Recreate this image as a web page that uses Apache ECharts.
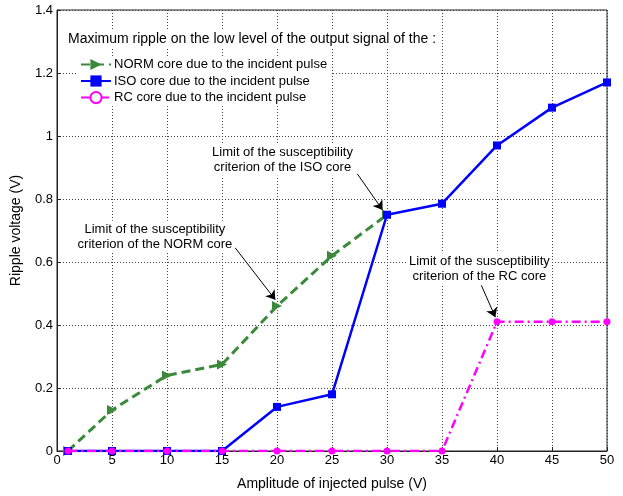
<!DOCTYPE html>
<html>
<head>
<meta charset="utf-8">
<script src="https://cdn.jsdelivr.net/npm/echarts@6/dist/echarts.min.js"></script>
<style>
  html, body { margin: 0; padding: 0; background: #fff; }
  #chart { width: 623px; height: 496px; }
</style>
</head>
<body>
<div id="chart"></div>
<script>
// Injected pulse amplitude (V) and measured ripple (V) for each core
const amplitudes = [1, 5, 10, 15, 20, 25, 30, 35, 40, 45, 50];
const normRipple = [0, 0.13, 0.24, 0.275, 0.46, 0.62, 0.75];
const isoRipple  = [0, 0, 0, 0, 0.14, 0.18, 0.75, 0.785, 0.97, 1.09, 1.17];
const rcRipple   = [0, 0, 0, 0, 0, 0, 0, 0, 0.41, 0.41, 0.41];

const seriesNames = [
  'NORM core due to the incident pulse',
  'ISO core due to the incident pulse',
  'RC core due to the incident pulse'
];
const headerText = 'Maximum ripple on the low level of the output signal of the :';
const xTitle = 'Amplitude of injected pulse (V)';
const yTitle = 'Ripple voltage (V)';

const FONT = '"Liberation Sans", Arial, Helvetica, sans-serif';
const GREEN = '#3b8a3b';
const BLUE = '#0000ff';
const MAGENTA = '#ff00ff';

// callouts: text anchor and arrow start/end, in data coordinates
const callouts = [
  { lines: ['Limit of the susceptibility', 'criterion of the NORM core'], at: [8.9, 0.68], from: [16.2, 0.645], to: [19.85, 0.48] },
  { lines: ['Limit of the susceptibility', 'criterion of the ISO core'],  at: [20.5, 0.925], from: [27.3, 0.88], to: [29.6, 0.765] },
  { lines: ['Limit of the susceptibility', 'criterion of the RC core'],   at: [38.4, 0.577], from: [38.45, 0.536], to: [39.85, 0.425] }
];

const pairs = (ys) => ys.map((y, i) => [amplitudes[i], y]);

const chart = echarts.init(document.getElementById('chart'), null, { renderer: 'canvas' });

const gridLine = { show: true, lineStyle: { color: '#444', width: 1, type: [1, 2] } };

chart.setOption({
  animation: false,
  backgroundColor: '#fff',
  textStyle: { fontFamily: FONT },
  title: {
    text: headerText,
    left: 65,
    top: 31,
    padding: [1, 3],
    backgroundColor: '#fff',
    textStyle: { fontSize: 14, fontWeight: 'normal', color: '#000', fontFamily: FONT }
  },
  legend: {
    orient: 'vertical',
    left: 76,
    top: 56,
    padding: [2, 4],
    itemGap: 3.5,
    itemWidth: 30,
    itemHeight: 14,
    backgroundColor: '#fff',
    textStyle: { fontSize: 13, color: '#000', fontFamily: FONT, padding: [0, 0, 0, -2] },
    data: [
      { name: seriesNames[0] },
      { name: seriesNames[1] },
      { name: seriesNames[2], itemStyle: { color: '#fff', borderColor: MAGENTA, borderWidth: 2 } }
    ]
  },
  grid: {
    left: 57, right: 16, top: 10, bottom: 37,
    show: true, borderColor: '#222', borderWidth: 1, backgroundColor: 'transparent'
  },
  xAxis: {
    type: 'value',
    min: 0, max: 50, interval: 5,
    name: xTitle,
    nameLocation: 'middle',
    nameGap: 26,
    nameTextStyle: { fontSize: 14, color: '#000', fontFamily: FONT },
    axisLine: { show: true, onZero: false, lineStyle: { color: '#222' } },
    axisTick: { show: true, inside: true, length: 4, lineStyle: { color: '#222' } },
    axisLabel: { fontSize: 13, color: '#000', margin: 3, fontFamily: FONT },
    splitLine: gridLine
  },
  yAxis: {
    type: 'value',
    min: 0, max: 1.4, interval: 0.2,
    name: yTitle,
    nameLocation: 'middle',
    nameGap: 34,
    nameTextStyle: { fontSize: 14, color: '#000', fontFamily: FONT },
    axisLine: { show: true, lineStyle: { color: '#222' } },
    axisTick: { show: true, inside: true, length: 4, lineStyle: { color: '#222' } },
    axisLabel: { fontSize: 13, color: '#000', margin: 4, fontFamily: FONT },
    splitLine: gridLine
  },
  series: [
    {
      name: seriesNames[0],
      type: 'line',
      data: pairs(normRipple),
      symbol: 'triangle',
      symbolRotate: -90,
      symbolSize: 10,
      showAllSymbol: true,
      lineStyle: { color: GREEN, width: 3, type: [9, 5] },
      itemStyle: { color: GREEN },
      z: 2
    },
    {
      name: seriesNames[1],
      type: 'line',
      data: pairs(isoRipple),
      symbol: 'rect',
      symbolSize: 8,
      showAllSymbol: true,
      lineStyle: { color: BLUE, width: 2.5 },
      itemStyle: { color: BLUE },
      z: 3,
      markLine: {
        silent: true,
        symbol: ['none', 'arrow'],
        symbolSize: 9,
        label: { show: false },
        itemStyle: { color: '#000' },
        lineStyle: { color: '#000', width: 1, type: 'solid' },
        emphasis: { disabled: true },
        data: callouts.map(c => [{ coord: c.from }, { coord: c.to }])
      }
    },
    {
      name: seriesNames[2],
      type: 'line',
      data: pairs(rcRipple),
      symbol: 'circle',
      symbolSize: 7,
      showAllSymbol: true,
      lineStyle: { color: MAGENTA, width: 2.5, type: [9, 4, 2, 4] },
      itemStyle: { color: MAGENTA },
      z: 4
    }
  ]
});

// callout texts, placed through the axes
chart.setOption({
  graphic: callouts.map(c => {
    const p = chart.convertToPixel({ gridIndex: 0 }, c.at);
    return {
      type: 'text',
      x: p[0],
      y: p[1],
      z: 10,
      style: {
        text: c.lines.join('\n'),
        font: '13px ' + FONT,
        fill: '#000',
        align: 'center',
        verticalAlign: 'middle',
        lineHeight: 15,
        backgroundColor: '#fff',
        padding: [1, 2]
      }
    };
  })
});
</script>
</body>
</html>
